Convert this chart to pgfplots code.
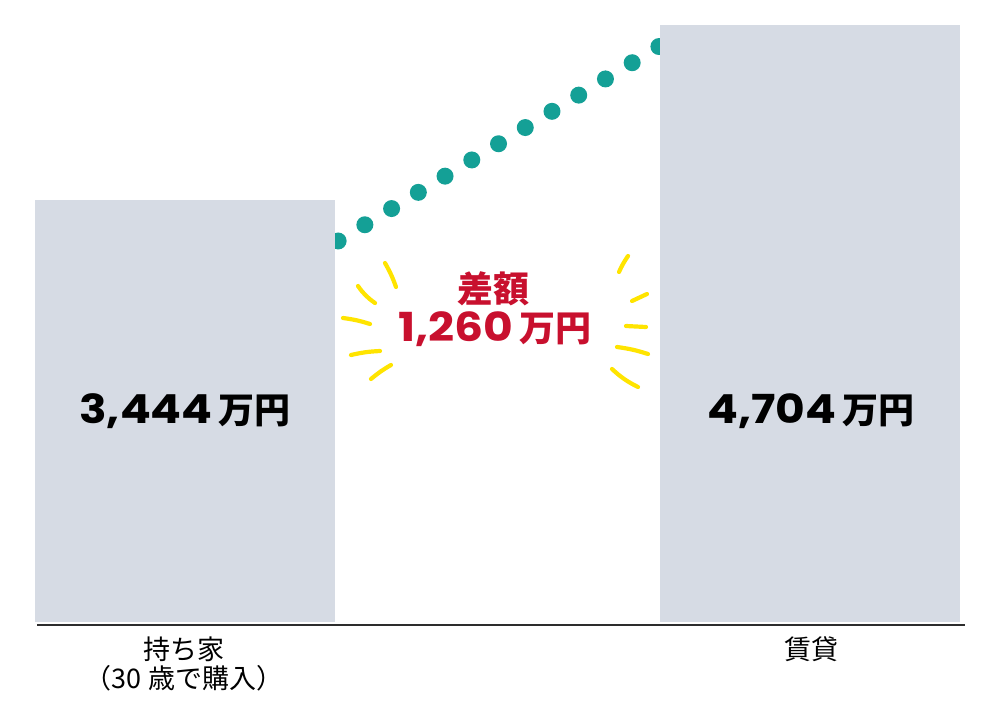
\documentclass[border=0pt]{standalone}
\usepackage{pgfplots}
\pgfplotsset{compat=1.18}
\usepackage{fontspec}
\setmainfont{Liberation Sans}
\newfontfamily\jp{Noto Sans CJK JP}
\newfontfamily\numf{Poppins}[FakeStretch=1.14]
\definecolor{barcol}{RGB}{214,219,228}
\definecolor{dotcol}{RGB}{20,160,150}
\definecolor{redcol}{RGB}{200,16,46}
\definecolor{yel}{RGB}{255,228,0}
\definecolor{basecol}{RGB}{45,45,45}
\newcommand{\bignum}[1]{{\numf\bfseries\fontsize{20}{20}\selectfont #1}\hspace{3pt}{\jp\bfseries\fontsize{18}{18}\selectfont 万円}}
\begin{document}
\begin{tikzpicture}
\useasboundingbox (0,0) rectangle (500pt,360pt);
\begin{axis}[at={(0,0)}, anchor=south west, scale only axis,
  width=500pt, height=360pt,
  xmin=-0.296, xmax=1.304, ymin=-300, ymax=4884,
  hide axis, clip=false]
% dotted trend (behind bars)
\addplot[draw=dotcol, line width=8.5pt, line cap=round, dash pattern=on 0pt off 15.63pt] coordinates {
 (0.245,3149) (0.77,4581)};
% bars
\addplot[fill=barcol, draw=none] coordinates {(-0.24,405.6) (-0.24,3444) (0.24,3444) (0.24,405.6)} --cycle;
\addplot[fill=barcol, draw=none] coordinates {(0.76,405.6) (0.76,4704) (1.24,4704) (1.24,405.6)} --cycle;
% baseline
\addplot[draw=basecol, line width=1pt] coordinates {(-0.2368,384) (1.248,384)};
\end{axis}
\begin{scope}[shift={(0pt,360pt)}, x=0.5pt, y=-0.5pt]
\node at (185,411) {\bignum{3,444}};
\node at (811,411) {\bignum{4,704}};
\node[font=\bfseries\fontsize{18}{18}\selectfont\jp, text=redcol] at (493,289) {差額};
\node[text=redcol] at (495,329) {\bignum{1,260}};
\node[font=\jp\fontsize{13.5}{14.5}\selectfont, align=center] at (184,664) {持ち家\\（30 歳で購入）};
\node[font=\jp\fontsize{13.5}{14.5}\selectfont] at (811,649) {賃貸};
\begin{scope}[draw=yel, line width=2.1pt, line cap=round]
\draw (385,263) to[bend left=5] (396,287);
\draw (358,286) to[bend right=10] (375,303);
\draw (343,318) to[bend left=5] (370,324);
\draw (351,355) to[bend left=5] (380,351);
\draw (371,379) to[bend left=5] (391,365);
\draw (628,256) to[bend right=5] (619,272);
\draw (647,294) to (632,301);
\draw (626,326) to (646,327);
\draw (617,347) to[bend left=5] (648,354);
\draw (612,369) to[bend right=8] (638,387);
\end{scope}
\end{scope}
\end{tikzpicture}
\end{document}
